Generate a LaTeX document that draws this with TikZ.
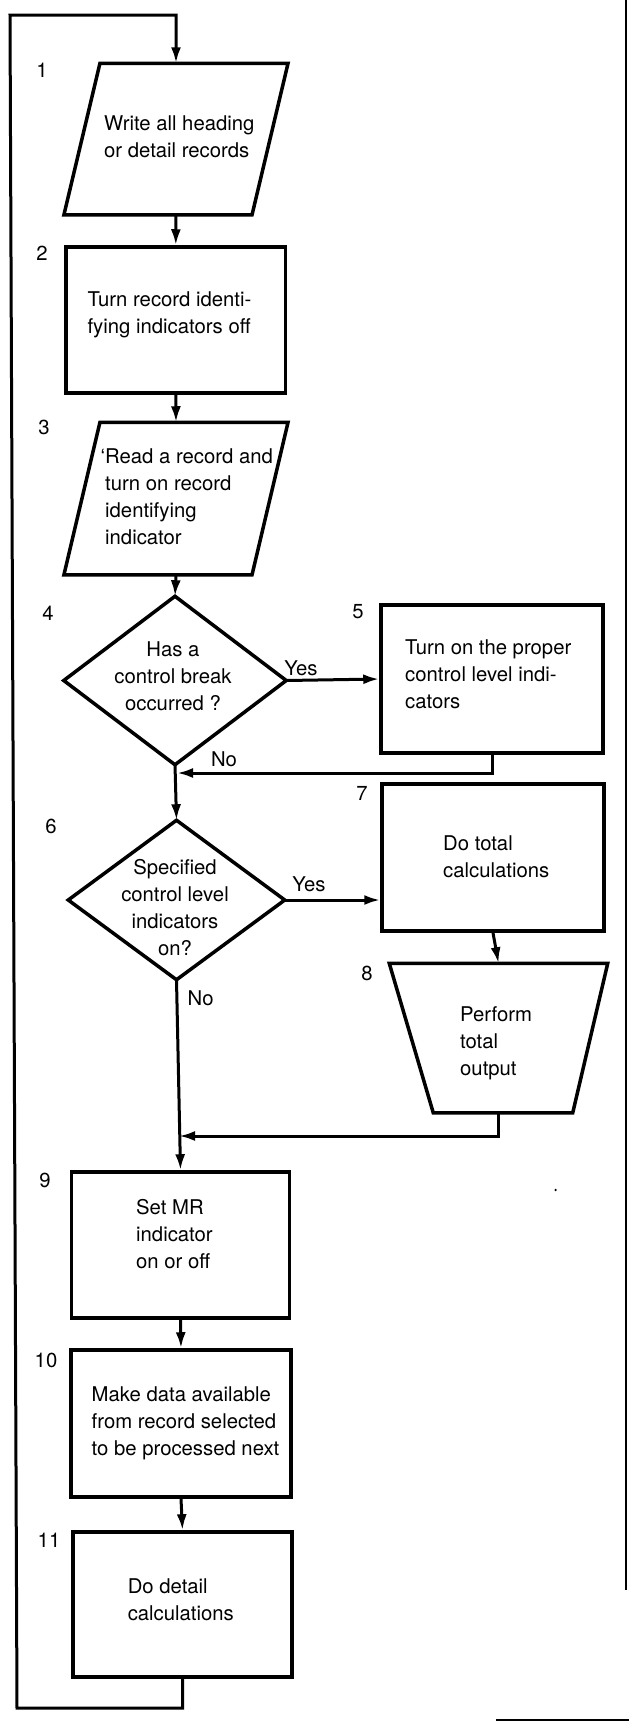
\documentclass[tikz,border=0pt]{standalone}
\usepackage{fontspec}
\setmainfont{TeX Gyre Heros}
\usetikzlibrary{arrows.meta,calc}

\begin{document}
\begin{tikzpicture}[x=1pt,y=-1pt,
  labelfont/.style={font=\fontsize{20.3}{27}\selectfont},
  frame/.style={rectangle, inner sep=0pt, outer sep=1.75pt},
  procbox/.style={frame, draw, line width=3.5pt},
  outline/.style={line width=3.5pt, line join=miter},
  txt/.style={labelfont, inner sep=0pt, align=left, anchor=west},
  ctxt/.style={labelfont, inner sep=0pt, align=center},
  num/.style={labelfont, inner sep=0pt},
  flow/.style={line width=3pt, -{Latex[length=16pt,width=10pt]}},
  link/.style={line width=3pt}
]
\useasboundingbox (0,0) rectangle (629,1722);

% ---------- main column ----------
\node[frame, minimum width=220.6pt, minimum height=148pt] (p1) at (176,139) {};
\draw[outline] ($(p1.north west)+(36,0)$) -- (p1.north east)
  -- ($(p1.south east)+(-36,0)$) -- (p1.south west) -- cycle;
\node[txt] (t1) at (104,136.5) {Write all heading\\or detail records};

\node[procbox, minimum width=219.6pt, minimum height=146pt] (b2) at (175.8,320) {};
\node[txt] (t2) at (87.4,315) {Turn record identi-\\fying indicators off};

\node[frame, minimum width=220.6pt, minimum height=149pt] (p3) at (176,498.5) {};
\draw[outline] ($(p3.north west)+(36,0)$) -- (p3.north east)
  -- ($(p3.south east)+(-36,0)$) -- (p3.south west) -- cycle;
\node[txt] (t3) at (105,497) {\llap{`}Read a record and\\turn on record\\identifying\\indicator};

\node[frame, minimum width=219pt, minimum height=165pt] (d4) at (175,680.5) {};
\draw[outline] (d4.north) -- (d4.east) -- (d4.south) -- (d4.west) -- cycle;
\node[ctxt] (t4) at (173,676) {Has a\\control break\\occurred ?};

\node[frame, minimum width=213pt, minimum height=156pt] (d6) at (176.5,900) {};
\draw[outline] (d6.north) -- (d6.east) -- (d6.south) -- (d6.west) -- cycle;
\node[ctxt] (t6) at (175,907.5) {Specified\\control level\\indicators\\on?};

\node[procbox, minimum width=218pt, minimum height=146pt] (b9) at (180.5,1245) {};
\node[txt] (t9) at (136,1234.5) {Set MR\\indicator\\on or off};

\node[procbox, minimum width=220pt, minimum height=147pt] (b10) at (181,1423.5) {};
\node[txt] (t10) at (91.5,1423) {Make data available\\from record selected\\to be processed next};

\node[procbox, minimum width=219pt, minimum height=145pt] (b11) at (182.5,1604.5) {};
\node[txt] (t11) at (127.6,1599.5) {Do detail\\calculations};

% ---------- right column ----------
\node[procbox, minimum width=222pt, minimum height=148pt] (b5) at (492,679) {};
\node[txt] (t5) at (405,674) {Turn on the proper\\control level indi-\\cators};

\node[procbox, minimum width=222pt, minimum height=147pt] (b7) at (493,857.5) {};
\node[txt] (t7) at (443,857) {Do total\\calculations};

\node[frame, minimum width=215pt, minimum height=146pt] (t8box) at (498.5,1038) {};
\draw[outline] (t8box.north west) -- (t8box.north east)
  -- ($(t8box.south east)+(-35,0)$) -- ($(t8box.south west)+(44,0)$) -- cycle;
\node[txt] (t8) at (460,1043) {Perform\\total\\output};

% ---------- step numbers ----------
\node[num] (n1) at (42,70) {1};
\node[num] (n2) at (42,253) {2};
\node[num] (n3) at (44,427) {3};
\node[num] (n4) at (48,613) {4};
\node[num] (n5) at (358,612) {5};
\node[num] (n6) at (51,826) {6};
\node[num] (n7) at (362,793) {7};
\node[num] (n8) at (367,973) {8};
\node[num] (n9) at (45,1180) {9};
\node[num] (n10) at (46,1360) {10};
\node[num] (n11) at (49,1540) {11};

% ---------- branch labels ----------
\node[num] (yes4) at (301,668) {Yes};
\node[num] (no4) at (224,759) {No};
\node[num] (yes6) at (309,884) {Yes};
\node[num] (no6) at (200.6,998) {No};

% ---------- connectors ----------
\coordinate (loopbot) at (17,1708);
\coordinate (looptop) at (10,15);
\coordinate (j1) at (177,773);
\coordinate (j2) at (179,1136);

\draw[flow] (b11.south) |- (loopbot) -- (looptop) -| (p1.north);
\draw[flow] (p1.south) -- (b2.north);
\draw[flow] (b2.south) -- (p3.north);
\draw[flow] (p3.south) -- (d4.north);
\draw[flow] (d4.east) -- (b5.west);
\draw[flow] (b5.south) |- (j1);
\draw[flow] (d4.south) -- (d6.north);
\draw[flow] (d6.east) -- (d6.east -| b7.west);
\draw[flow] (b7.south) -- (t8box.north);
\draw[flow] (t8box.south) |- (j2);
\draw[flow] (d6.south) -- (b9.north);
\draw[flow] (b9.south) -- (b10.north);
\draw[flow] (b10.south) -- (b11.north);

% ---------- page edges and a stray speck ----------
\draw[line width=2.5pt] (626,0) -- (626,1590);
\draw[line width=2pt] (496,1720) -- (629,1720);
\fill (555.6,1190) circle (1.3pt);
\end{tikzpicture}
\end{document}
